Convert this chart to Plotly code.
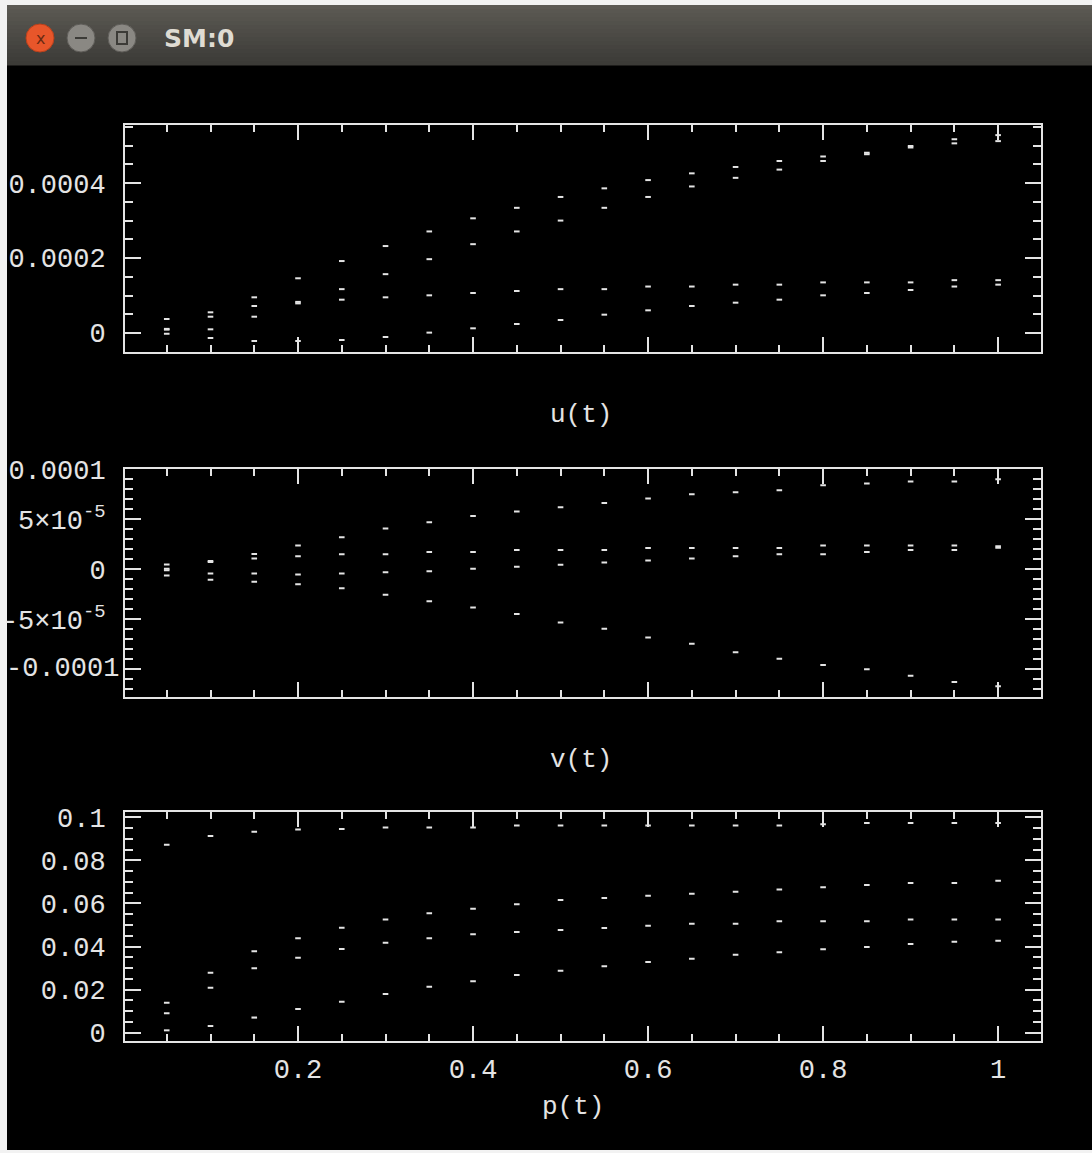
import plotly.graph_objects as go

W, H = 1092, 1153

# ---------------- data ----------------
t = [0.05, 0.10, 0.15, 0.20, 0.25, 0.30, 0.35, 0.40, 0.45, 0.50,
     0.55, 0.60, 0.65, 0.70, 0.75, 0.80, 0.85, 0.90, 0.95, 1.00]

u1 = [3.73e-5, 5.52e-5, 9.52e-5, 1.46e-4, 1.92e-4, 2.32e-4, 2.71e-4, 3.06e-4, 3.34e-4, 3.63e-4,
      3.86e-4, 4.08e-4, 4.26e-4, 4.43e-4, 4.59e-4, 4.71e-4, 4.81e-4, 4.99e-4, 5.17e-4, 5.28e-4]
u2 = [1.10e-5, 4.35e-5, 7.20e-5, 8.30e-5, 1.17e-4, 1.57e-4, 1.97e-4, 2.37e-4, 2.71e-4, 3.00e-4,
      3.34e-4, 3.63e-4, 3.91e-4, 4.14e-4, 4.36e-4, 4.59e-4, 4.77e-4, 4.95e-4, 5.06e-4, 5.12e-4]
u3 = [9.0e-6, 9.8e-6, 4.35e-5, 7.9e-5, 8.89e-5, 9.52e-5, 1.005e-4, 1.067e-4, 1.12e-4, 1.17e-4,
      1.17e-4, 1.24e-4, 1.24e-4, 1.29e-4, 1.29e-4, 1.35e-4, 1.35e-4, 1.35e-4, 1.41e-4, 1.41e-4]
u4 = [-2.0e-6, -1.33e-5, -2.13e-5, -2.13e-5, -1.87e-5, -1.07e-5, 1.0e-6, 1.25e-5, 2.4e-5, 3.47e-5,
      4.89e-5, 6.05e-5, 7.2e-5, 8.09e-5, 8.89e-5, 1.005e-4, 1.067e-4, 1.147e-4, 1.24e-4, 1.29e-4]

v1 = [4.7e-6, 8.2e-6, 15.3e-6, 23.7e-6, 32.0e-6, 40.7e-6, 47.0e-6, 53.3e-6, 57.7e-6, 62.0e-6,
      66.3e-6, 70.7e-6, 75.0e-6, 77.0e-6, 79.0e-6, 84.0e-6, 85.7e-6, 87.7e-6, 87.7e-6, 90.0e-6]
v2 = [0.3e-6, 7.2e-6, 10.7e-6, 13.0e-6, 15.0e-6, 15.0e-6, 17.3e-6, 17.3e-6, 19.3e-6, 19.3e-6,
      19.3e-6, 21.3e-6, 21.3e-6, 21.3e-6, 21.3e-6, 23.7e-6, 23.7e-6, 23.7e-6, 23.7e-6, 23.0e-6]
v3 = [-1.2e-6, -4.3e-6, -4.3e-6, -5.3e-6, -4.3e-6, -3.0e-6, -2.0e-6, 0.3e-6, 2.3e-6, 4.3e-6,
      6.7e-6, 8.7e-6, 10.7e-6, 13.0e-6, 15.0e-6, 15.0e-6, 17.3e-6, 19.3e-6, 19.3e-6, 21.5e-6]
v4 = [-6.3e-6, -10.7e-6, -12.7e-6, -15.0e-6, -19.0e-6, -25.7e-6, -32.0e-6, -38.3e-6, -45.0e-6, -53.3e-6,
      -59.7e-6, -68.3e-6, -74.7e-6, -83.3e-6, -89.7e-6, -96.0e-6, -100.3e-6, -106.7e-6, -113.0e-6, -117.3e-6]

p1 = [0.0872, 0.0913, 0.0933, 0.0943, 0.0946, 0.0953, 0.0953, 0.0953, 0.0962, 0.0962,
      0.0962, 0.0962, 0.0962, 0.0962, 0.0962, 0.0968, 0.0973, 0.0973, 0.0973, 0.0973]
p2 = [0.0139, 0.0278, 0.0378, 0.0438, 0.0487, 0.0526, 0.0555, 0.0575, 0.0596, 0.0616,
      0.0625, 0.0636, 0.0645, 0.0654, 0.0665, 0.0675, 0.0685, 0.0695, 0.0695, 0.0705]
p3 = [0.0090, 0.0209, 0.0299, 0.0348, 0.0388, 0.0418, 0.0438, 0.0457, 0.0467, 0.0477,
      0.0486, 0.0497, 0.0506, 0.0506, 0.0517, 0.0517, 0.0517, 0.0526, 0.0526, 0.0526]
p4 = [0.0011, 0.0031, 0.0070, 0.0110, 0.0144, 0.0180, 0.0213, 0.0239, 0.0268, 0.0288,
      0.0308, 0.0328, 0.0343, 0.0362, 0.0373, 0.0387, 0.0398, 0.0412, 0.0422, 0.0427]

x_tickvals = [0.2, 0.4, 0.6, 0.8, 1.0]
x_ticktext = ["0.2", "0.4", "0.6", "0.8", "1"]
u_tickvals = [0, 0.0002, 0.0004]
u_ticktext = ["0", "0.0002", "0.0004"]
v_tickvals = [-0.00005, 0, 0.00005, 0.0001]
v_ticktext = ["-5×10<sup>-5</sup>", "0", "5×10<sup>-5</sup>", "0.0001"]
v_bottom_tick = -0.0001
v_bottom_text = "-0.0001"
p_tickvals = [0, 0.02, 0.04, 0.06, 0.08, 0.1]
p_ticktext = ["0", "0.02", "0.04", "0.06", "0.08", "0.1"]

panel_labels = ["u(t)", "v(t)", "p(t)"]
window_title = "SM:0"

# ---------------- styling ----------------
FG = "#e4e4e4"
FONT = "Liberation Mono"
FS = 27


def px(x):
    return x / W


def py(y):
    return 1 - y / H


fig = go.Figure()

panels = [
    ("x", "y", [u1, u2, u3, u4]),
    ("x2", "y2", [v1, v2, v3, v4]),
    ("x3", "y3", [p1, p2, p3, p4]),
]
for xa, ya, series in panels:
    for s in series:
        fig.add_trace(go.Scatter(
            x=t, y=s, xaxis=xa, yaxis=ya, mode="markers",
            marker=dict(symbol="line-ew", size=4, color=FG,
                        line=dict(color=FG, width=2)),
            showlegend=False, hoverinfo="skip"))

# panel pixel boxes (top, bottom)
boxes = [(125, 352), (469.3, 697.3), (812.3, 1041)]
x_dom = [px(125), px(1041)]

common_x = dict(
    range=[0.0023, 1.049], showgrid=False, zeroline=False, automargin=False,
    showline=True, linecolor=FG, linewidth=2, mirror="ticks",
    ticks="inside", ticklen=15, tickwidth=2, tickcolor=FG,
    tickvals=x_tickvals, ticktext=x_ticktext,
    tickfont=dict(family=FONT, size=FS, color=FG),
    minor=dict(ticks="inside", ticklen=7, tickwidth=2, tickcolor=FG,
               tick0=0, dtick=0.05, showgrid=False),
)

common_y = dict(
    showgrid=False, zeroline=False, automargin=False,
    showline=True, linecolor=FG, linewidth=2, mirror="ticks",
    ticks="inside", ticklen=16, tickwidth=2, tickcolor=FG,
    tickfont=dict(family=FONT, size=FS, color=FG),
    ticklabelstandoff=12,
)

layout = dict(
    width=W, height=H, autosize=False,
    margin=dict(l=0, r=0, t=0, b=0, pad=0, autoexpand=False),
    paper_bgcolor="#f2f2f2", plot_bgcolor="black",
)

yspecs = [
    (u_tickvals, u_ticktext, [-0.0000507, 0.000555], 0.00005),
    (v_tickvals, v_ticktext, [-0.0001283, 0.0001], 0.00001),
    (p_tickvals, p_ticktext, [-0.00385, 0.1023], 0.005),
]
for i, ((top, bot), (tv, tt, rng, mdt)) in enumerate(zip(boxes, yspecs)):
    suf = "" if i == 0 else str(i + 1)
    xa = dict(common_x)
    xa["domain"] = x_dom
    xa["anchor"] = "y" + suf
    xa["showticklabels"] = (i == 2)
    xa["ticklabelstandoff"] = 3
    if i > 0:
        xa["matches"] = "x"
    ya = dict(common_y)
    ya["domain"] = [py(bot), py(top)]
    ya["anchor"] = "x" + suf
    ya["range"] = rng
    ya["tickvals"] = tv
    ya["ticktext"] = tt
    ya["minor"] = dict(ticks="inside", ticklen=8, tickwidth=2, tickcolor=FG,
                       tick0=0, dtick=mdt, showgrid=False)
    layout["xaxis" + suf] = xa
    layout["yaxis" + suf] = ya

fig.update_layout(**layout)

# the -0.0001 major tick (its label is placed separately, it sits closer to the frame)
fig.add_shape(type="line", xref="x2", yref="y2", x0=0.0023, x1=0.0023,
              y0=v_bottom_tick, y1=v_bottom_tick, line=dict(width=0))

# ---------------- window chrome ----------------
shapes = []
shapes.append(dict(type="rect", xref="paper", yref="paper",
                   x0=px(7), x1=px(W), y0=py(1150), y1=py(65),
                   fillcolor="black", line=dict(width=0), layer="below"))
n = 15
top_c = (0x5c, 0x5a, 0x54)
bot_c = (0x3c, 0x3b, 0x37)
for k in range(n):
    f = k / (n - 1)
    c = tuple(int(top_c[j] + (bot_c[j] - top_c[j]) * f) for j in range(3))
    y0 = 5 + (65 - 5) * k / n
    y1 = 5 + (65 - 5) * (k + 1) / n
    shapes.append(dict(type="rect", xref="paper", yref="paper",
                       x0=px(7), x1=px(W), y0=py(y1 + 0.5), y1=py(y0),
                       fillcolor="rgb(%d,%d,%d)" % c, line=dict(width=0),
                       layer="below"))


def circle(cx, cy, r, fill, line):
    return dict(type="circle", xref="paper", yref="paper",
                x0=px(cx - r), x1=px(cx + r), y0=py(cy + r), y1=py(cy - r),
                fillcolor=fill, line=dict(color=line, width=1))


shapes.append(circle(40, 38, 14, "#e8562a", "#b8401c"))
shapes.append(circle(81, 38, 14, "#8a8883", "#5e5c58"))
shapes.append(circle(122, 38, 14, "#8a8883", "#5e5c58"))
shapes.append(dict(type="line", xref="paper", yref="paper",
                   x0=px(75), x1=px(87), y0=py(38), y1=py(38),
                   line=dict(color="#3c3b37", width=2)))
shapes.append(dict(type="rect", xref="paper", yref="paper",
                   x0=px(117), x1=px(127), y0=py(44), y1=py(32),
                   line=dict(color="#3c3b37", width=2)))
# -0.0001 major tick marks on both sides of the v(t) panel
shapes.append(dict(type="line", xref="paper", yref="y2",
                   x0=px(125), x1=px(141), y0=v_bottom_tick, y1=v_bottom_tick,
                   line=dict(color=FG, width=2)))
shapes.append(dict(type="line", xref="paper", yref="y2",
                   x0=px(1025), x1=px(1041), y0=v_bottom_tick, y1=v_bottom_tick,
                   line=dict(color=FG, width=2)))
for s in shapes:
    fig.add_shape(**s)

annotations = [
    dict(text="x", x=px(40), y=py(38), xref="paper", yref="paper",
         xanchor="center", yanchor="middle",
         showarrow=False, font=dict(family="DejaVu Sans", size=16, color="#6a2a12")),
    dict(text="<b>%s</b>" % window_title, x=px(162), y=py(38), xref="paper", yref="paper",
         xanchor="left", yanchor="middle", showarrow=False,
         font=dict(family="DejaVu Sans", size=25, color="#dfdbd2")),
    dict(text=v_bottom_text, x=px(121), y=v_bottom_tick, xref="paper", yref="y2",
         xanchor="right", yanchor="middle", showarrow=False,
         font=dict(family=FONT, size=FS, color=FG)),
    dict(text=panel_labels[0], x=px(581), y=py(415), xref="paper", yref="paper",
         xanchor="center", yanchor="middle",
         showarrow=False, font=dict(family=FONT, size=26, color=FG)),
    dict(text=panel_labels[1], x=px(581), y=py(760), xref="paper", yref="paper",
         xanchor="center", yanchor="middle",
         showarrow=False, font=dict(family=FONT, size=26, color=FG)),
    dict(text=panel_labels[2], x=px(573), y=py(1107), xref="paper", yref="paper",
         xanchor="center", yanchor="middle",
         showarrow=False, font=dict(family=FONT, size=26, color=FG)),
]
fig.update_layout(annotations=annotations)

fig.write_html("out.html", config={"displayModeBar": False},
               post_script="document.body.style.margin='0';document.body.style.overflow='hidden';")
